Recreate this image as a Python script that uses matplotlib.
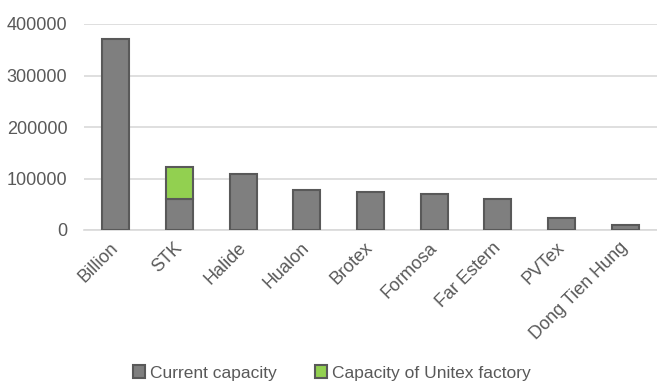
import matplotlib
matplotlib.use("Agg")
import matplotlib.pyplot as plt
import numpy as np

categories = ["Billion", "STK", "Halide", "Hualon", "Brotex", "Formosa",
              "Far Estern", "PVTex", "Dong Tien Hung"]
current_capacity = [370000, 60000, 108000, 78000, 74000, 69000, 60000, 24000, 10000]
unitex_capacity = [0, 62000, 0, 0, 0, 0, 0, 0, 0]
y_ticks = [0, 100000, 200000, 300000, 400000]

plt.rcParams['font.family'] = ['Liberation Sans', 'DejaVu Sans']
text_color = '#595959'

fig = plt.figure(figsize=(6.57, 3.81), dpi=100)
ax = fig.add_axes([84/657, 151/381, 573/657, 206/381])

x = np.arange(len(categories))
w = 0.42
ax.bar(x, current_capacity, width=w, color='#7f7f7f', edgecolor='#595959',
       linewidth=1.5, label='Current capacity', zorder=3)
mask = np.array(unitex_capacity) > 0
ax.bar(x[mask], np.array(unitex_capacity)[mask], width=w,
       bottom=np.array(current_capacity)[mask], color='#92d050',
       edgecolor='#595959', linewidth=1.5, label='Capacity of Unitex factory', zorder=3)

ax.set_xlim(-0.5, len(categories) - 0.5)
ax.set_ylim(0, 400000)
ax.set_yticks(y_ticks)
ax.set_yticklabels([str(v) for v in y_ticks], fontsize=13, color=text_color)
ax.yaxis.grid(True, color='#d9d9d9', linewidth=1.2, zorder=0)
ax.set_axisbelow(True)
for s in ['top', 'right', 'left']:
    ax.spines[s].set_visible(False)
ax.spines['bottom'].set_color('#d9d9d9')
ax.spines['bottom'].set_linewidth(1.2)
ax.tick_params(axis='y', length=0, pad=12)
ax.tick_params(axis='x', length=0, pad=11)
ax.set_xticks(x)
ax.set_xticklabels(categories, rotation=45, ha='right', va='center',
                   rotation_mode='anchor', fontsize=13, color=text_color)
for lbl in ax.get_xticklabels():
    lbl.set_x(lbl.get_position()[0])

fig.legend(loc='center', bbox_to_anchor=(0.505, 1 - 373/381), ncol=2, frameon=False,
           fontsize=12.5, labelcolor=text_color, handlelength=0.7, handleheight=0.7,
           handletextpad=0.3, columnspacing=2.2, borderaxespad=0)

fig.savefig('out.png', dpi=100)
